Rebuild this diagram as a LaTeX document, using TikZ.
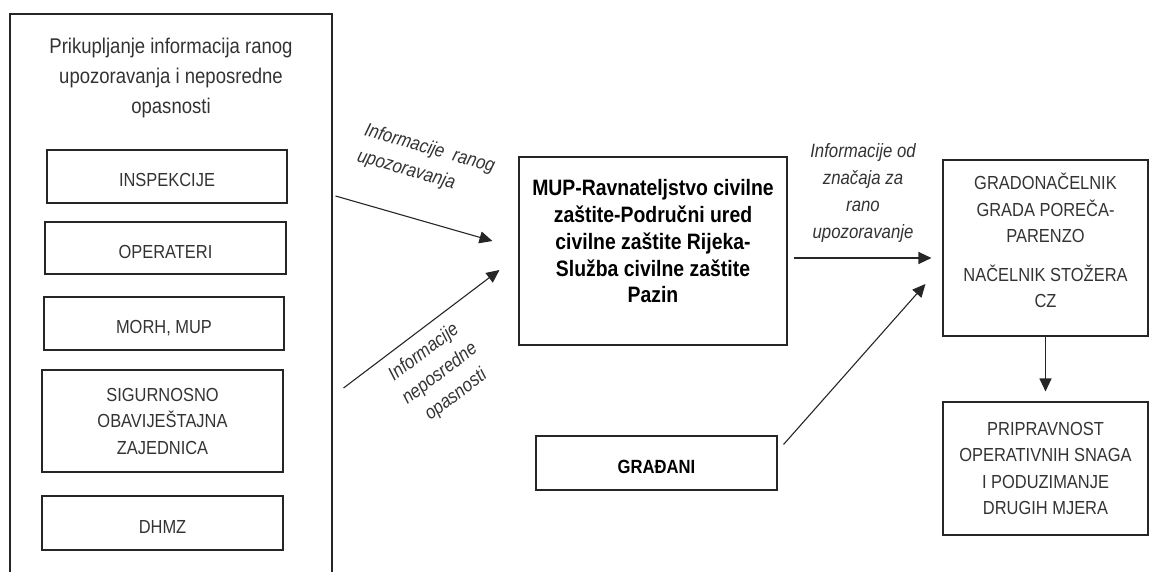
\documentclass[tikz,border=0pt]{standalone}
\usepackage{fontspec}
\setmainfont{Liberation Sans}[FakeStretch=0.87]
\usetikzlibrary{arrows.meta}

\begin{document}
\begin{tikzpicture}[x=1pt,y=-1pt,
  box/.style={draw=black!85, line width=1.1pt, align=center, inner sep=0pt, text=black!80, font=\fontsize{18.9}{26.5}\selectfont},
  onebox/.style={box, text height=20pt, text depth=0pt},
  boldbox/.style={box, text=black, font=\bfseries\fontsize{22.3}{26.75}\selectfont},
  head/.style={align=center, inner sep=0pt, text=black!80, font=\fontsize{21.3}{29.8}\selectfont},
  lab/.style={align=center, inner sep=0pt, text=black!80, font=\itshape\fontsize{19.3}{26.7}\selectfont},
  arr/.style={draw=black!85, line width=1.1pt, -{Triangle[length=13pt,width=12pt]}}]
\useasboundingbox (0,0) rectangle (1150,572);

\node[box, minimum width=322pt, minimum height=600pt] (collect) at (171,314) {};
\node[head] (head) at (171,78) {Prikupljanje informacija ranog\\upozoravanja i neposredne\\opasnosti};

\node[onebox, minimum width=240pt, minimum height=53pt] (insp) at (167,176.5) {INSPEKCIJE};
\node[onebox, minimum width=241pt, minimum height=52pt] (oper) at (165.5,248) {OPERATERI};
\node[onebox, minimum width=240pt, minimum height=53pt] (morh) at (164,323.5) {MORH, MUP};
\node[box, minimum width=241pt, minimum height=102pt] (sig) at (162.5,421) {SIGURNOSNO\\OBAVIJEŠTAJNA\\ZAJEDNICA};
\node[onebox, minimum width=241pt, minimum height=54pt] (dhmz) at (162.5,523) {DHMZ};

\node[boldbox, minimum width=268pt, minimum height=188pt] (mup) at (653,251) {MUP-Ravnateljstvo civilne\\zaštite-Područni ured\\civilne zaštite Rijeka-\\Služba civilne zaštite\\Pazin\\[-7.5pt]\mbox{}};
\node[onebox, text=black, font=\bfseries\fontsize{19.1}{20}\selectfont, minimum width=241pt, minimum height=54pt] (citizens) at (656.5,463) {GRAĐANI};

\node[box, minimum width=205pt, minimum height=176pt] (mayor) at (1045.5,248) {GRADONAČELNIK\\GRADA POREČA-\\PARENZO\\[12pt]NAČELNIK STOŽERA\\CZ\\[-11.5pt]\mbox{}};
\node[box, minimum width=205pt, minimum height=133pt] (ready) at (1045.5,468.5) {PRIPRAVNOST\\OPERATIVNIH SNAGA\\I PODUZIMANJE\\DRUGIH MJERA};

\draw[arr] ([shift={(3,-118)}]collect.east) -- ([shift={(-26,-10)}]mup.west);
\draw[arr] ([shift={(11,74)}]collect.east) -- ([shift={(-19,19)}]mup.west);
\draw[arr] ([shift={(6,7)}]mup.east) -- ([shift={(-11,10)}]mayor.west);
\draw[arr] ([shift={(6,9)}]citizens.north east) -- ([shift={(-17,36)}]mayor.west);
\draw[arr] (mayor.south) -- ([shift={(0,-10)}]ready.north);

\node[lab, align=left, rotate=-16] (warnlab) at (426,162) {Informacije\ \ ranog\\upozoravanja};
\node[lab, rotate=37] (dangerlab) at (440,374) {Informacije\\neposredne\\opasnosti};
\node[lab] (relaylab) at (863,193) {Informacije od\\značaja za\\rano\\upozoravanje};
\end{tikzpicture}
\end{document}
